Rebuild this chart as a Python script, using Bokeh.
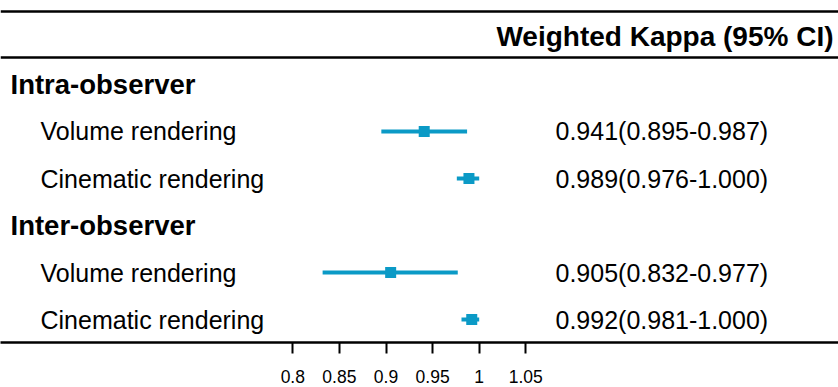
from bokeh.plotting import figure
from bokeh.models import Range1d, Span, FixedTicker, CustomJSTickFormatter, ColumnDataSource
from bokeh.core.properties import value
from bokeh.embed import file_html
from bokeh.resources import INLINE

# ---- data ----
groups = ["Intra-observer", "Inter-observer"]
methods = ["Volume rendering", "Cinematic rendering"]
kappa = [0.941, 0.989, 0.905, 0.992]
lower = [0.895, 0.976, 0.832, 0.981]
upper = [0.987, 1.000, 0.977, 1.000]
tick_values = [0.8, 0.85, 0.9, 0.95, 1.0, 1.05]
header = "Weighted Kappa (95% CI)"

# ---- layout ----
W, H = 838, 387
BOTTOM = 45
X0 = 0.8 - 292.3 / 932
X1 = X0 + W / 932
FONT = "Liberation Sans"
BLUE = "#0b9ac6"


def px2x(px):
    return X0 + px * (X1 - X0) / W


p = figure(width=W, height=H, output_backend="svg", toolbar_location=None,
           x_range=Range1d(X0, X1), y_range=Range1d(5.489, -1.787),
           min_border_left=0, min_border_right=0, min_border_top=0,
           min_border_bottom=BOTTOM, y_axis_location=None)
p.outline_line_color = None
p.xgrid.visible = False
p.ygrid.visible = False
p.background_fill_color = "white"
p.border_fill_color = "white"

# rows: group header then its methods
group_rows, item_rows, item_labels = [], [], []
r = 0
for g in groups:
    group_rows.append(r)
    r += 1
    for m in methods:
        item_rows.append(r)
        item_labels.append(m)
        r += 1

# horizontal rules at the top
for yy in (-1.553, -0.574):
    p.add_layout(Span(location=yy, dimension="width", line_color="black", line_width=2.5))

# header
p.text(x=[px2x(833)], y=[-1.02], text=[header], text_align="right", text_baseline="middle",
       text_font=value(FONT), text_font_style="bold", text_font_size="28px", text_color="black")

# group labels
p.text(x=[px2x(10)] * len(groups), y=group_rows, text=groups, text_align="left",
       text_baseline="middle", text_font=value(FONT), text_font_style="bold",
       text_font_size="27.5px", text_color="black")

# item labels
p.text(x=[px2x(40)] * len(item_labels), y=item_rows, text=item_labels, text_align="left",
       text_baseline="middle", text_font=value(FONT), text_font_size="25px", text_color="black")

# values
val_text = [f"{k:.3f}({l:.3f}-{u:.3f})" for k, l, u in zip(kappa, lower, upper)]
p.text(x=[px2x(555)] * len(val_text), y=item_rows, text=val_text, text_align="left",
       text_baseline="middle", text_font=value(FONT), text_font_size="25px", text_color="black")

# CI lines and points
src = ColumnDataSource(dict(y=item_rows, k=kappa, lo=lower, hi=upper))
p.segment(x0="lo", x1="hi", y0="y", y1="y", source=src, line_color=BLUE, line_width=4)
p.scatter(x="k", y="y", source=src, marker="square", size=11, fill_color=BLUE, line_color=None)

# x axis
ax = p.xaxis[0]
ax.ticker = FixedTicker(ticks=tick_values)
ax.formatter = CustomJSTickFormatter(code="return String(Math.round(tick*100)/100)")
ax.axis_line_width = 2.5
ax.axis_line_color = "black"
ax.major_tick_line_width = 2
ax.major_tick_line_color = "black"
ax.major_tick_out = 11
ax.major_tick_in = 0
ax.minor_tick_out = 0
ax.minor_tick_in = 0
ax.major_label_standoff = 16
ax.major_label_text_font = FONT
ax.major_label_text_font_size = "17.5px"
ax.major_label_text_color = "black"

open("out.html", "w").write(file_html(p, INLINE))
